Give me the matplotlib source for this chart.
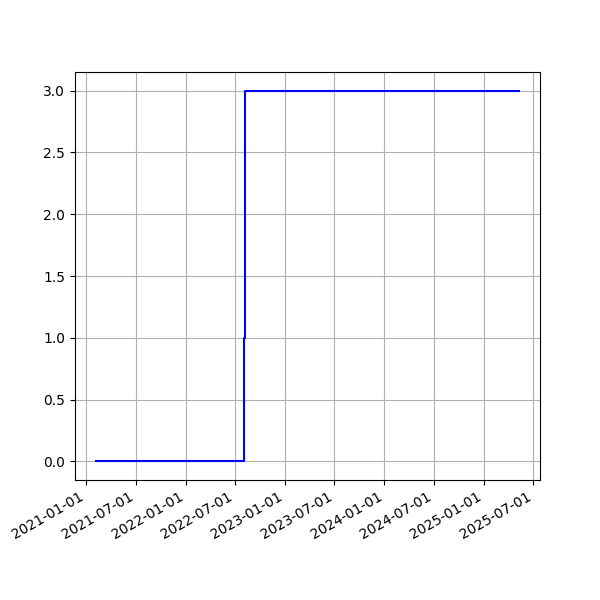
import matplotlib
matplotlib.use("Agg")
import matplotlib.pyplot as plt
import matplotlib.dates as mdates
import pandas as pd

# Step points (value holds until the next date)
dates = ["2021-02-06", "2022-08-02", "2022-08-07", "2025-05-09"]
values = [0, 1, 3, 3]

fig, ax = plt.subplots(figsize=(6, 6), dpi=100)

ax.plot(pd.to_datetime(dates), values, color="blue", drawstyle="steps-post")

ax.xaxis.set_major_locator(mdates.MonthLocator(bymonth=[1, 7]))
ax.xaxis.set_major_formatter(mdates.DateFormatter("%Y-%m-%d"))
ax.grid(True)

fig.autofmt_xdate()
fig.savefig("out.png")
